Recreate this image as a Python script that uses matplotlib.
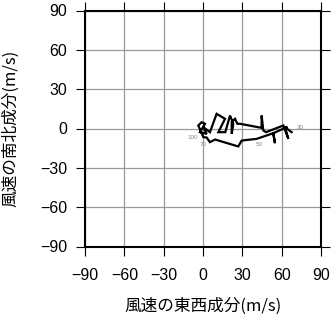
import numpy as np
import matplotlib.pyplot as plt

plt.rcParams['font.family'] = ['Liberation Sans', 'Noto Sans CJK JP', 'DejaVu Sans']

# hodograph (東西成分 u, 南北成分 v) [m/s]
u = [67.6, 62.5, 65.1, 61.3, 48.1, 46.0, 44.7, 44.7, 28.2, 26.2, 24.4, 21.9,
     21.9, 23.1, 20.6, 17.0, 11.7, 16.8, 10.4, 5.3, 0.3, 2.8, -2.3, 1.5,
     -1.0, -3.6, 0.3, 2.8, 5.3, 9.2, 26.9, 29.5, 40.9, 53.6, 54.9, 53.6,
     63.8]
v = [-2.8, 1.0, -7.9, 2.3, -2.8, -1.5, 9.9, 0.5, 3.6, 3.6, 7.4, 4.8,
     -4.1, 3.6, 9.9, -2.8, -2.8, 7.4, 11.2, -2.8, 1.0, -4.1, -2.8, 3.6,
     4.8, 2.3, -6.6, -6.9, -10.4, -8.4, -13.7, -9.2, -7.9, -3.6, -11.2, -3.6,
     1.0]

# 気圧面ラベル
lev_names = ['100', '70', '50', '30']
lev_u = [-7.6, 0.0, 43.0, 74.0]
lev_v = [-6.9, -12.0, -12.0, 0.8]

ticks = [-90, -60, -30, 0, 30, 60, 90]
tick_txt = [str(t) if t >= 0 else '\u2212' + str(-t) for t in ticks]

fig = plt.figure(figsize=(3.31, 3.18), dpi=100)
ax = fig.add_axes([85/331, 71.5/318, 236/331, 236/318])

ax.grid(True, color='#999999', linewidth=0.9)
ax.set_axisbelow(True)
ax.plot(u, v, color='black', linewidth=1.6, solid_joinstyle='miter')
for name, x, y in zip(lev_names, lev_u, lev_v):
    ax.text(x, y, name, fontsize=4.5, color='#888888', ha='center', va='center')

ax.set_xlim(-90, 90)
ax.set_ylim(-90, 90)
ax.set_xticks(ticks)
ax.set_yticks(ticks)
ax.set_xticklabels(tick_txt)
ax.set_yticklabels(tick_txt)
ax.tick_params(direction='out', length=6.5, width=0.8, labelsize=11.5,
               top=True, right=True)
ax.tick_params(axis='x', pad=9)
ax.tick_params(axis='y', pad=6.5)
for s in ax.spines.values():
    s.set_linewidth(1.5)

ax.set_xlabel('風速の東西成分(m/s)', fontsize=12, family=['Noto Sans CJK JP'])
ax.set_ylabel('風速の南北成分(m/s)', fontsize=12, family=['Noto Sans CJK JP'])
ax.xaxis.set_label_coords(0.5, -0.215)
ax.yaxis.set_label_coords(-0.277, 0.5)

fig.savefig('out.png', dpi=100)
